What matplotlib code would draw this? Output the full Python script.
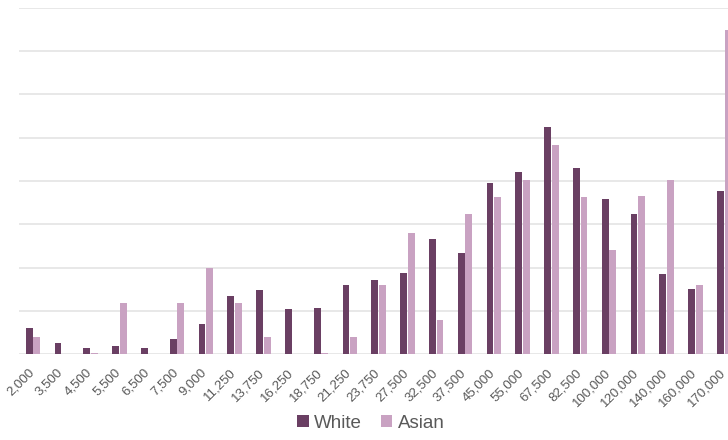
import matplotlib
matplotlib.use("Agg")
import matplotlib.pyplot as plt
import matplotlib.transforms as mtransforms
import numpy as np

plt.rcParams["font.family"] = ["Liberation Sans", "DejaVu Sans"]

# Income brackets along the x axis
categories = ["2,000", "3,500", "4,500", "5,500", "6,500", "7,500", "9,000",
              "11,250", "13,750", "16,250", "18,750", "21,250", "23,750",
              "27,500", "32,500", "37,500", "45,000", "55,000", "67,500",
              "82,500", "100,000", "120,000", "140,000", "160,000", "170,000"]

white = [0.59, 0.25, 0.15, 0.18, 0.15, 0.34, 0.70, 1.33, 1.48, 1.04, 1.06,
         1.59, 1.70, 1.87, 2.65, 2.34, 3.96, 4.20, 5.24, 4.29, 3.58, 3.23,
         1.85, 1.51, 3.76]
asian = [0.40, 0.0, 0.03, 1.17, 0.0, 1.17, 1.98, 1.17, 0.39, 0.0, 0.03,
         0.39, 1.59, 2.79, 0.79, 3.23, 3.64, 4.03, 4.84, 3.64, 2.40, 3.65,
         4.03, 1.59, 7.48]

series_names = ["White", "Asian"]
colors = ["#6a3f63", "#c9a2c2"]

fig = plt.figure(figsize=(7.28, 4.40), dpi=100)
# plot area runs past the right edge of the canvas
ax = fig.add_axes([18.6 / 728, 1 - 354 / 440, 720 / 728, 346 / 440])

x = np.arange(len(categories))
w = 0.235
gap = 0.012
ax.bar(x - w / 2 - gap, white, width=w, color=colors[0], label=series_names[0], zorder=3)
ax.bar(x + w / 2 + gap, asian, width=w, color=colors[1], label=series_names[1], zorder=3)

ax.set_xlim(-0.5, len(categories) - 0.5)
ax.set_ylim(0, 8)
ax.set_yticks(np.arange(0, 9, 1))
ax.yaxis.grid(True, color="#e4e4e4", linewidth=1.2, zorder=0)
ax.set_axisbelow(True)
ax.tick_params(axis="y", left=False, labelleft=False)
ax.tick_params(axis="x", length=0, pad=9, labelsize=9.5, labelcolor="#595959")
for s in ax.spines.values():
    s.set_visible(False)

ax.set_xticks(x)
ax.set_xticklabels(categories, rotation=45, ha="right", rotation_mode="anchor")
shift = mtransforms.ScaledTranslation(-5 / 100, 0, fig.dpi_scale_trans)
for lbl in ax.get_xticklabels():
    lbl.set_transform(lbl.get_transform() + shift)

leg = fig.legend(loc="center", bbox_to_anchor=(371 / 728, 1 - 423 / 440), ncol=2,
                 frameon=False, fontsize=13.5, handlelength=0.6, handleheight=0.6,
                 handletextpad=0.3, columnspacing=1.0, labelcolor="#595959")

fig.savefig("out.png", dpi=100)
